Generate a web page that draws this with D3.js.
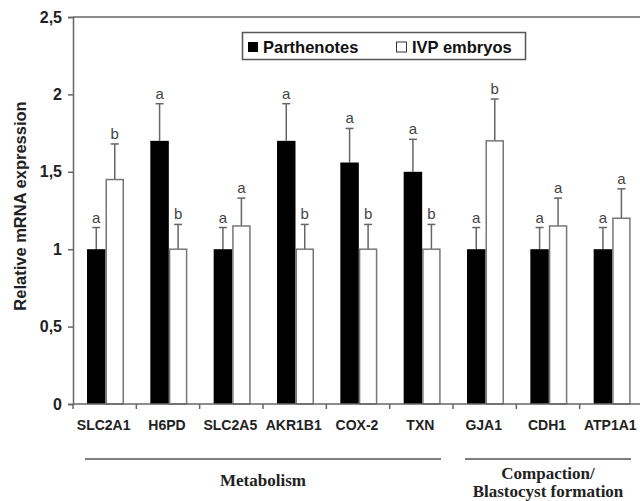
<!DOCTYPE html>
<html>
<head>
<meta charset="utf-8">
<script src="https://cdn.jsdelivr.net/npm/d3@7"></script>
<style>
  body { margin: 0; background: #fff; }
  svg { display: block; }
</style>
</head>
<body>
<div id="chart"></div>
<script>
// genes on the x axis
var genes = ["SLC2A1", "H6PD", "SLC2A5", "AKR1B1", "COX-2", "TXN", "GJA1", "CDH1", "ATP1A1"];
var seriesNames = ["Parthenotes", "IVP embryos"];

// mean values
var parthenotes = [1, 1.70, 1, 1.70, 1.56, 1.50, 1, 1, 1];
var ivp = [1.45, 1, 1.15, 1, 1, 1, 1.70, 1.15, 1.20];

// top of error bars
var parthErrTop = [1.14, 1.94, 1.14, 1.94, 1.78, 1.71, 1.14, 1.14, 1.14];
var ivpErrTop = [1.68, 1.16, 1.33, 1.16, 1.16, 1.16, 1.97, 1.33, 1.39];

// significance letters
var parthLetters = ["a", "a", "a", "a", "a", "a", "a", "a", "a"];
var ivpLetters = ["b", "b", "a", "b", "b", "b", "b", "a", "a"];

var yTicks = [0, 0.5, 1, 1.5, 2, 2.5];

// gene groups shown below the axis
var groups = [
  { lines: ["Metabolism"], first: "SLC2A1", last: "TXN" },
  { lines: ["Compaction/", "Blastocyst formation"], first: "GJA1", last: "ATP1A1" }
];

var width = 640, height = 501;
var plotLeft = 73, plotRight = 643, plotTop = 17, plotBottom = 404;
var axisColor = "#666";

var svg = d3.select("#chart").append("svg")
  .attr("width", width)
  .attr("height", height);

var x = d3.scaleBand().domain(genes).range([plotLeft, plotRight]);
var xSub = d3.scaleBand().domain(seriesNames).range([14, 51]);
var y = d3.scaleLinear().domain([0, 2.5]).range([plotBottom, plotTop]);

// build rows from the arrays
var rows = [];
genes.forEach(function(g, i) {
  rows.push({ gene: g, series: "Parthenotes", value: parthenotes[i], err: parthErrTop[i], letter: parthLetters[i] });
  rows.push({ gene: g, series: "IVP embryos", value: ivp[i], err: ivpErrTop[i], letter: ivpLetters[i] });
});

function barX(d) { return x(d.gene) + xSub(d.series); }
function barMid(d) { return barX(d) + xSub.bandwidth() / 2; }

// error bars first so bars sit on top
var err = svg.append("g").attr("stroke", "#666").attr("stroke-width", 1.5);
err.selectAll("line.v").data(rows).enter().append("line")
  .attr("x1", barMid).attr("x2", barMid)
  .attr("y1", function(d) { return y(d.value); })
  .attr("y2", function(d) { return y(d.err); });
err.selectAll("line.c").data(rows).enter().append("line")
  .attr("x1", function(d) { return barMid(d) - 4; })
  .attr("x2", function(d) { return barMid(d) + 4; })
  .attr("y1", function(d) { return y(d.err); })
  .attr("y2", function(d) { return y(d.err); });

// bars
svg.append("g").selectAll("rect").data(rows).enter().append("rect")
  .attr("x", function(d) { return d.series == "Parthenotes" ? barX(d) : barX(d) + 0.75; })
  .attr("y", function(d) { return y(d.value); })
  .attr("width", function(d) { return d.series == "Parthenotes" ? xSub.bandwidth() : xSub.bandwidth() - 1.5; })
  .attr("height", function(d) { return plotBottom - y(d.value); })
  .attr("fill", function(d) { return d.series == "Parthenotes" ? "#000" : "#fff"; })
  .attr("stroke", function(d) { return d.series == "Parthenotes" ? "none" : "#777"; })
  .attr("stroke-width", 1.5);

// letters above error bars
svg.append("g").selectAll("text").data(rows).enter().append("text")
  .attr("x", barMid)
  .attr("y", function(d) { return y(d.err) - 5; })
  .attr("text-anchor", "middle")
  .style("font-family", "Arial, 'Liberation Sans', sans-serif")
  .style("font-size", "15px")
  .style("fill", "#444")
  .text(function(d) { return d.letter; });

// y axis
var yAxis = svg.append("g")
  .attr("transform", "translate(" + plotLeft + ",0)")
  .call(d3.axisLeft(y).tickValues(yTicks).tickSize(5).tickPadding(6)
    .tickFormat(function(d) { return d3.format("")(d).replace(".", ","); }));
yAxis.select(".domain").attr("stroke", axisColor).attr("stroke-width", 1.5);
yAxis.selectAll(".tick line").attr("stroke", axisColor).attr("stroke-width", 1.5);
yAxis.selectAll(".tick text")
  .style("font-family", "Arial, 'Liberation Sans', sans-serif")
  .style("font-size", "16px")
  .style("font-weight", "bold")
  .style("fill", "#222");

// top frame line
svg.append("line")
  .attr("x1", plotLeft).attr("x2", width)
  .attr("y1", y(2.5)).attr("y2", y(2.5))
  .attr("stroke", axisColor).attr("stroke-width", 1.5);

// x axis: ticks between categories
var xAxis = svg.append("g")
  .attr("transform", "translate(0," + plotBottom + ")");
xAxis.append("line")
  .attr("x1", plotLeft).attr("x2", width)
  .attr("stroke", axisColor).attr("stroke-width", 1.5);
xAxis.selectAll("line.tick").data(genes).enter().append("line")
  .attr("x1", function(d) { return x(d); })
  .attr("x2", function(d) { return x(d); })
  .attr("y1", 0).attr("y2", 5)
  .attr("stroke", axisColor).attr("stroke-width", 1.5);
xAxis.selectAll("text").data(genes).enter().append("text")
  .attr("x", function(d) { return x(d) + x.bandwidth() / 2 - 1; })
  .attr("y", 26)
  .attr("text-anchor", "middle")
  .style("font-family", "Arial, 'Liberation Sans', sans-serif")
  .style("font-size", "14px")
  .style("font-weight", "bold")
  .style("fill", "#222")
  .text(function(d) { return d; });

// y label
svg.append("text")
  .attr("transform", "translate(26,206) rotate(-90)")
  .attr("text-anchor", "middle")
  .style("font-family", "Arial, 'Liberation Sans', sans-serif")
  .style("font-size", "16.5px")
  .style("font-weight", "bold")
  .style("fill", "#222")
  .text("Relative mRNA expression");

// group lines and labels
function groupEnd(d) { return Math.min(x(d.last) + x.bandwidth() - 12, 632); }
var g = svg.append("g").selectAll("g").data(groups).enter().append("g");
g.append("line")
  .attr("x1", function(d) { return x(d.first) + 12; })
  .attr("x2", groupEnd)
  .attr("y1", 459).attr("y2", 459)
  .attr("stroke", "#555").attr("stroke-width", 1.5);
g.each(function(d) {
  var cx = (x(d.first) + 12 + groupEnd(d)) / 2;
  var t = d3.select(this).append("text")
    .attr("text-anchor", "middle")
    .style("font-family", "'Liberation Serif', 'Times New Roman', serif")
    .style("font-size", "17px")
    .style("font-weight", "bold")
    .style("fill", "#222");
  var y0 = d.lines.length == 1 ? 486 : 479;
  d.lines.forEach(function(s, i) {
    t.append("tspan").attr("x", cx).attr("y", y0 + i * 18).text(s);
  });
});

// legend
var legend = svg.append("g");
legend.append("rect")
  .attr("x", 242.5).attr("y", 32.5).attr("width", 283).attr("height", 27)
  .attr("fill", "#fff").attr("stroke", "#555").attr("stroke-width", 1.5);
var legendItems = [
  { name: seriesNames[0], fill: "#000", stroke: "none", sx: 248, tx: 263 },
  { name: seriesNames[1], fill: "#fff", stroke: "#333", sx: 396.5, tx: 412 }
];
legend.selectAll("rect.key").data(legendItems).enter().append("rect")
  .attr("x", function(d) { return d.sx; })
  .attr("y", 42)
  .attr("width", 10).attr("height", 10)
  .attr("fill", function(d) { return d.fill; })
  .attr("stroke", function(d) { return d.stroke; })
  .attr("stroke-width", 1);
legend.selectAll("text").data(legendItems).enter().append("text")
  .attr("x", function(d) { return d.tx; })
  .attr("y", 53)
  .style("font-family", "Arial, 'Liberation Sans', sans-serif")
  .style("font-size", "16.5px")
  .style("font-weight", "bold")
  .style("fill", "#111")
  .text(function(d) { return d.name; });
</script>
</body>
</html>
